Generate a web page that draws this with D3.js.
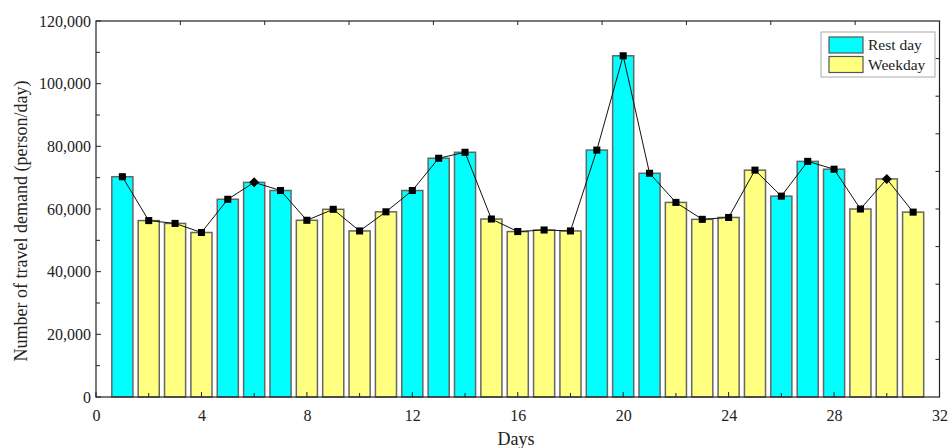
<!DOCTYPE html>
<html><head><meta charset="utf-8">
<script src="https://cdn.jsdelivr.net/npm/d3@7"></script>
<style>body{margin:0;background:#fff}svg{display:block}</style>
</head><body><svg id="c" width="949" height="448"></svg>
<script>
const days = d3.range(1, 32);
const demand = [70300,56300,55400,52500,63100,68500,65900,56400,59900,53000,59100,65900,76200,78100,56800,52800,53300,53000,78800,108900,71400,62100,56700,57300,72400,64100,75200,72700,60000,69600,59000];
const dayType = ["R","W","W","W","R","R","R","W","W","W","W","R","R","R","W","W","W","W","R","R","R","W","W","W","W","R","R","R","W","W","W"];
const markerShape = ["s","s","s","s","s","d","s","s","s","s","s","s","s","s","s","s","s","s","s","s","s","s","s","s","s","s","s","s","s","d","s"];
const legendLabels = ["Rest day","Weekday"];
const xTicks = [0,4,8,12,16,20,24,28,32];
const yTicks = [0,20000,40000,60000,80000,100000,120000];

const colors = {R:"#00FFFF", W:"#FFFF80"};
const svg = d3.select("#c");
const L=96, R=939.5, T=21, B=397;
const x = d3.scaleLinear().domain([0,32]).range([L,R]);
const y = d3.scaleLinear().domain([0,120000]).range([B,T]);
const fmt = d3.format(",");
const font = "'Liberation Serif','Times New Roman',serif";

// bars
const bw = x(0.8)-x(0);
svg.append("g").selectAll("rect").data(days).join("rect")
  .attr("x", d=>x(d)-bw/2).attr("width", bw)
  .attr("y", (d,i)=>y(demand[i])).attr("height", (d,i)=>B-y(demand[i]))
  .attr("fill", (d,i)=>colors[dayType[i]])
  .attr("stroke","#666").attr("stroke-width",1.5);

// line
svg.append("path").datum(days)
  .attr("d", d3.line().x(d=>x(d)).y((d,i)=>y(demand[i])))
  .attr("fill","none").attr("stroke","#111").attr("stroke-width",1);

// markers
svg.append("g").selectAll("path").data(days).join("path")
  .attr("transform",(d,i)=>`translate(${x(d)},${y(demand[i])})`)
  .attr("d",(d,i)=>markerShape[i]==="s" ? d3.symbol(d3.symbolSquare,50)() : "M0,-5L5,0L0,5L-5,0Z")
  .attr("fill","#000");

// axes
const bottom = d3.axisBottom(x).tickValues(xTicks).tickSize(0).tickPadding(13);
const gx = svg.append("g").attr("transform",`translate(0,${B})`).call(bottom);
gx.select(".domain").remove();
gx.selectAll("text").attr("font-family",font).attr("font-size",16).attr("fill","#222");

const left = d3.axisLeft(y).tickValues(yTicks).tickFormat(fmt).tickSize(0).tickPadding(5);
const gy = svg.append("g").attr("transform",`translate(${L},0)`).call(left);
gy.select(".domain").remove();
gy.selectAll("text").attr("font-family",font).attr("font-size",16).attr("fill","#222");

// inward ticks
const tk = svg.append("g").attr("stroke","#222").attr("stroke-width",1);
d3.range(0,120001,10000).forEach(v=>{
  tk.append("line").attr("x1",L).attr("x2",L+(v%20000===0?5:4)).attr("y1",y(v)).attr("y2",y(v));
});
d3.range(0,33,2).forEach(v=>{
  tk.append("line").attr("y1",B).attr("y2",B-(v%4===0?5:4)).attr("x1",x(v)).attr("x2",x(v));
});
d3.range(1,10).forEach(k=>{
  const xx = L+(R-L)*k/10, yy = B-(B-T)*k/10;
  tk.append("line").attr("x1",xx).attr("x2",xx).attr("y1",T).attr("y2",T+4);
  tk.append("line").attr("x1",R).attr("x2",R-4).attr("y1",yy).attr("y2",yy);
});

// frame
svg.append("rect").attr("x",L).attr("y",T).attr("width",R-L).attr("height",B-T)
  .attr("fill","none").attr("stroke","#222").attr("stroke-width",1.2);

// titles
svg.append("text").attr("x",516).attr("y",445).attr("text-anchor","middle")
  .attr("font-family",font).attr("font-size",18).attr("fill","#222").text("Days");
svg.append("text").attr("transform","translate(27,221) rotate(-90)").attr("text-anchor","middle")
  .attr("font-family",font).attr("font-size",18).attr("fill","#222").text("Number of travel demand (person/day)");

// legend
const lg = svg.append("g");
lg.append("rect").attr("x",821).attr("y",32).attr("width",114).attr("height",45)
  .attr("fill","#fff").attr("stroke","#aaa").attr("stroke-width",1);
legendLabels.forEach((lab,i)=>{
  lg.append("rect").attr("x",829).attr("y",37+i*19.5).attr("width",34).attr("height",16)
    .attr("fill",colors[i===0?"R":"W"]).attr("stroke","#555").attr("stroke-width",1.2);
  lg.append("text").attr("x",868).attr("y",50+i*19.5).attr("font-family",font).attr("font-size",15.5)
    .attr("fill","#222").text(lab);
});
</script></body></html>
